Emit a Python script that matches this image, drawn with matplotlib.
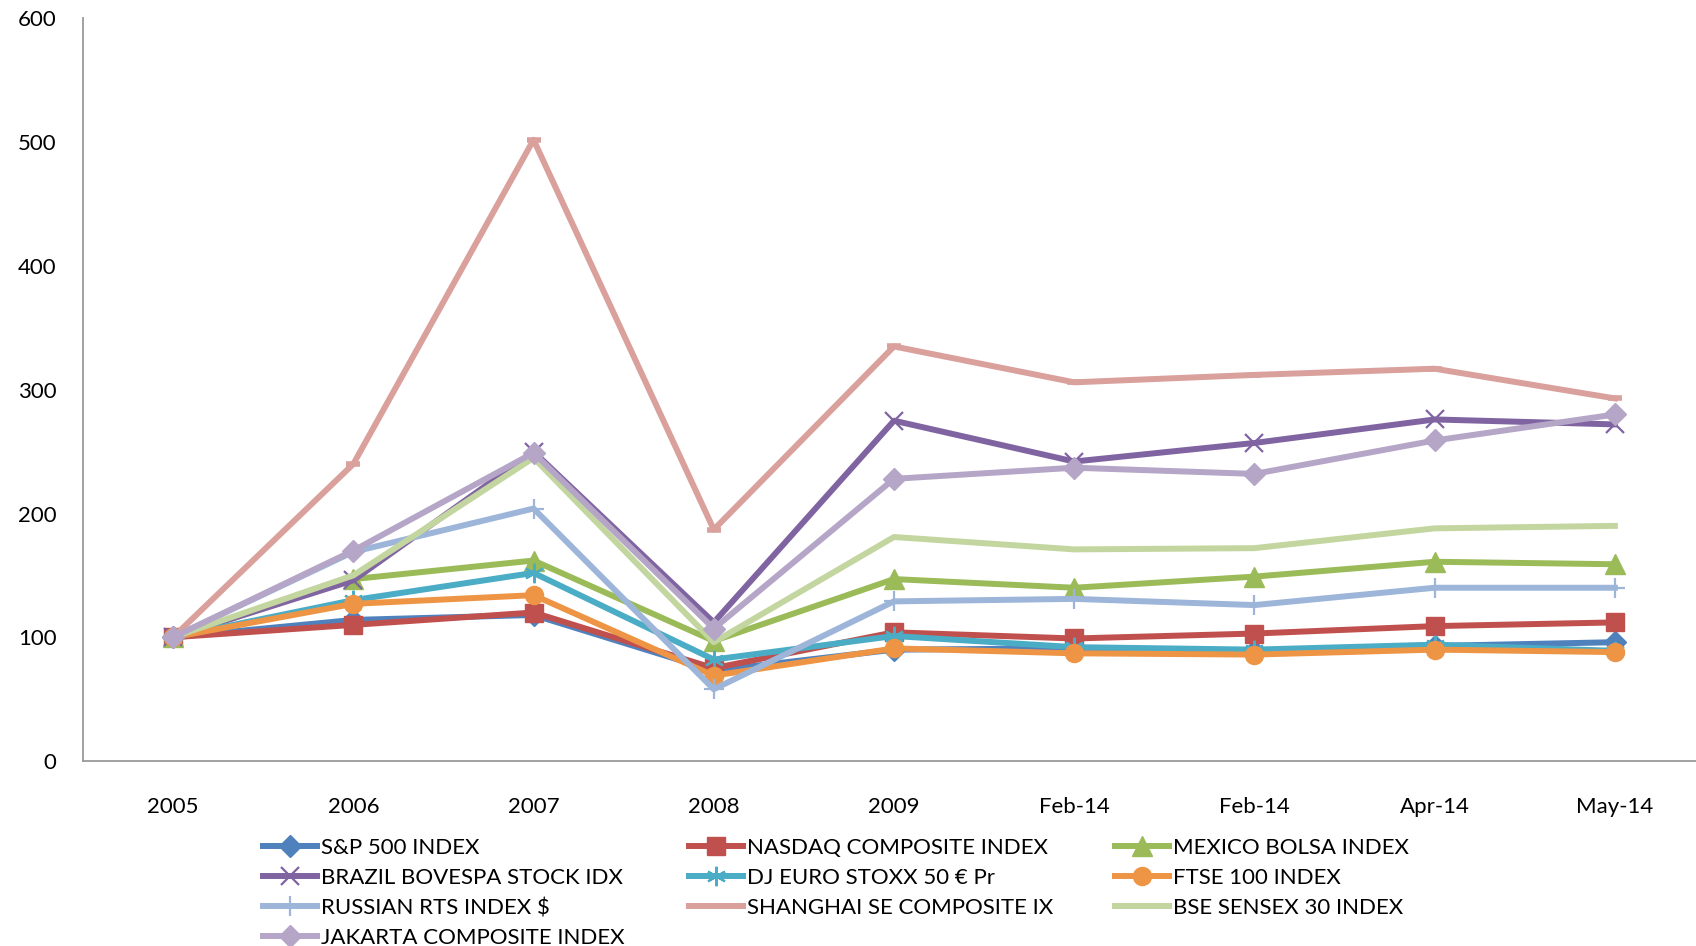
import matplotlib
matplotlib.use("Agg")
import matplotlib.pyplot as plt

plt.rcParams['font.family'] = ['Lato', 'DejaVu Sans']

categories = ['2005', '2006', '2007', '2008', '2009', 'Feb-14', 'Feb-14', 'Apr-14', 'May-14']

sp500 = [100, 114, 118, 73, 90, 91, 89, 93, 96]
nasdaq = [100, 110, 120, 75, 104, 99, 103, 109, 112]
mexico = [100, 147, 162, 97, 147, 140, 149, 161, 159]
brazil = [100, 146, 250, 112, 275, 242, 257, 276, 272]
djeuro = [100, 130, 152, 82, 101, 92, 90, 94, 89]
ftse = [100, 127, 134, 69, 91, 87, 86, 90, 88]
russia = [100, 169, 204, 58, 129, 131, 126, 140, 140]
shanghai = [100, 240, 502, 187, 335, 306, 312, 317, 293]
bse = [100, 150, 245, 96, 181, 171, 172, 188, 190]
jakarta = [100, 170, 249, 107, 228, 237, 232, 259, 280]

names = ['S&P 500 INDEX', 'NASDAQ COMPOSITE INDEX', 'MEXICO BOLSA INDEX',
         'BRAZIL BOVESPA STOCK IDX', 'DJ EURO STOXX 50 € Pr', 'FTSE 100 INDEX',
         'RUSSIAN RTS INDEX $', 'SHANGHAI SE COMPOSITE IX', 'BSE SENSEX 30 INDEX',
         'JAKARTA COMPOSITE INDEX']
series = [sp500, nasdaq, mexico, brazil, djeuro, ftse, russia, shanghai, bse, jakarta]
colors = ['#4F81BD', '#C0504D', '#9BBB59', '#8064A2', '#4BACC6', '#EE9545',
          '#9DB5D9', '#D9A09C', '#C3D6A0', '#B5A6C8']
# marker, size, edge width
styles = [('D', 11.5, 1), ('s', 12.5, 1), ('^', 14, 1), ('x', 13, 1.6), ((6, 2, 0), 14, 1.6),
          ('o', 13, 1), ('+', 15, 1.6), ('_', 10, 4), ('None', 0, 0), ('D', 11.5, 1)]

W, H = 1696, 946
fig = plt.figure(figsize=(W / 100, H / 100), dpi=100)
ax = fig.add_axes([83 / W, 185 / H, 1622 / W, 742.5 / H])

x = list(range(len(categories)))
handles = []
for vals, name, col, (mk, ms, mew) in zip(series, names, colors, styles):
    ln, = ax.plot(x, vals, color=col, lw=4.3, marker=mk, markersize=ms,
                  markeredgewidth=mew, markerfacecolor=col, markeredgecolor=col,
                  solid_joinstyle='round', label=name, clip_on=False)
    handles.append(ln)

ax.set_xlim(-0.5, 8.5)
ax.set_ylim(0, 600)
ax.set_yticks(range(0, 601, 100))
ax.set_xticks(x)
ax.set_xticklabels(categories)
for s in ['top', 'right']:
    ax.spines[s].set_visible(False)
for s in ['left', 'bottom']:
    ax.spines[s].set_color('#9A9A9A')
    ax.spines[s].set_linewidth(1.3)
ax.tick_params(axis='both', length=0, labelsize=16, colors='black')
ax.tick_params(axis='x', pad=26)
ax.tick_params(axis='y', pad=19)

# Legend laid out as three columns, filled row by row
col_x = [263, 689, 1115]
col_items = [[0, 3, 6, 9], [1, 4, 7], [2, 5, 8]]
for cx, items in zip(col_x, col_items):
    fig.legend([handles[i] for i in items], [names[i] for i in items],
               loc='upper left', bbox_to_anchor=(cx / W, 1 - 838 / H),
               frameon=False, fontsize=16, handlelength=2.45,
               handletextpad=0.15, borderpad=0, borderaxespad=0,
               labelspacing=0.45)

fig.savefig('out.png', dpi=100)
